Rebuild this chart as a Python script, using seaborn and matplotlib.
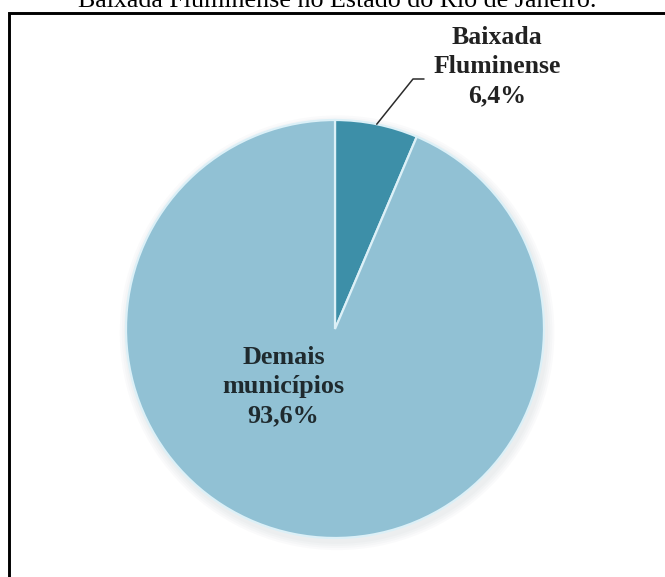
import numpy as np
import matplotlib
matplotlib.use("Agg")
import matplotlib.pyplot as plt
import seaborn as sns
from matplotlib.patches import Circle

# Share of the state's municipalities
title = "Baixada Fluminense no Estado do Rio de Janeiro."
categories = ["Baixada Fluminense", "Demais municípios"]
shares = [6.4, 93.6]
labels = ["Baixada\nFluminense\n6,4%", "Demais\nmunicípios\n93,6%"]
colors = ["#3d8fa8", "#91c1d4"]

sns.set_theme(style="white")
plt.rcParams["font.family"] = ["Liberation Serif", "DejaVu Serif"]

W, H = 665, 577
fig = plt.figure(figsize=(W / 100, H / 100), dpi=100)
fig.patch.set_facecolor("white")

# Pie placed by its centre and radius in pixels
cx, cy, r = 335, 329, 209
ax = fig.add_axes([(cx - r) / W, (H - cy - r) / H, 2 * r / W, 2 * r / H])

# soft drop shadow under the pie
for k in range(4):
    ax.add_patch(Circle((0.01, -0.018), 1.0 + 0.01 * (4 - k), color="#8a989e",
                        alpha=0.04, lw=0, clip_on=False, zorder=0))

wedges, _ = ax.pie(shares, colors=colors, startangle=90, counterclock=False,
                   wedgeprops=dict(edgecolor="#dcf0f7", linewidth=1.6))
for w in wedges:
    w.set_zorder(2)
ax.set_xlim(-1, 1)
ax.set_ylim(-1, 1)
ax.set_aspect("equal")
ax.axis("off")

# Overlay in pixel coordinates for frame, title, labels and leader
ov = fig.add_axes([0, 0, 1, 1], zorder=3)
ov.set_xlim(0, W)
ov.set_ylim(H, 0)
ov.axis("off")
ov.patch.set_alpha(0)

ov.plot([8.5, 8.5, W + 5], [H + 5, 12.5, 12.5], color="black", lw=2.1,
        solid_joinstyle="miter", clip_on=False)

ov.text(337, 7, title, ha="center", va="baseline", fontsize=18.7,
        color="black", clip_on=False)

# leader from the middle of the small slice to its label
theta = np.deg2rad(90 - 360 * shares[0] / sum(shares) / 2)
sx, sy = cx + r * np.cos(theta), cy - r * np.sin(theta)
ov.plot([sx, 413, 424], [sy, 79, 79], color="#2b2b2b", lw=1.1)

# multi-line labels anchored on the baseline of their last line
ov.text(497, 102, labels[0], ha="center", va="baseline", fontsize=18.5,
        fontweight="bold", color="#222222", linespacing=1.33)
ov.text(283.5, 422, labels[1], ha="center", va="baseline", fontsize=18.8,
        fontweight="bold", color="#1f2a2e", linespacing=1.33)

fig.savefig("out.png", dpi=100, facecolor="white")
